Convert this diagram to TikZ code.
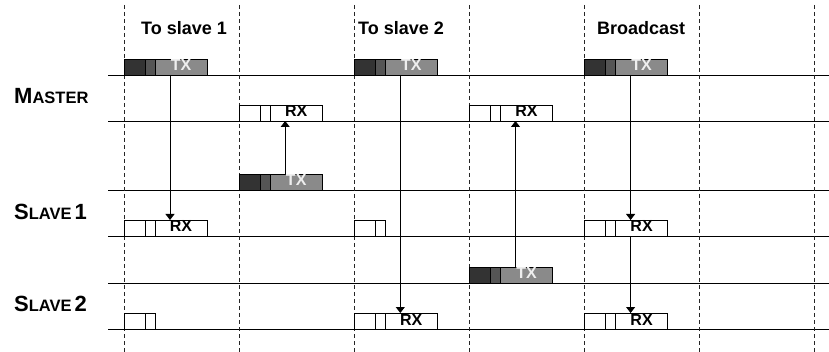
\documentclass[tikz,border=0pt]{standalone}
\usepackage{fontspec}
\setmainfont{Liberation Sans}
\usetikzlibrary{arrows.meta,calc}
\definecolor{dk}{HTML}{333333}
\definecolor{md}{HTML}{555555}
\definecolor{gy}{HTML}{8A8A8A}
\definecolor{txt}{HTML}{EEEEEE}
\newcommand\boxfont{\fontsize{16}{16}\selectfont\bfseries}
\newcommand\bigL[1]{{\fontsize{22}{22}\selectfont #1}}
\newcommand\smallL[1]{{\fontsize{16.5}{16.5}\selectfont #1}}
\tikzset{
  seg/.style={draw, anchor=north west, minimum height=16, inner sep=0, outer sep=0, line width=0.8, text height=11.5, text depth=3.5},
  hline/.style={line width=0.9},
  vdash/.style={line width=0.9, dash pattern=on 4 off 3, black!85},
  arr/.style={line width=0.9, -{Triangle[width=9,length=6]}},
  head/.style={anchor=base west, inner sep=0, font=\fontsize{18}{18}\selectfont\bfseries},
  lane/.style={anchor=base west, inner sep=0, font=\bfseries}
}
\newcommand\txbox[3]{%
  \node[seg,fill=dk,minimum width=21] (#1a) at (#2,#3) {};
  \node[seg,fill=md,minimum width=10] (#1b) at (#1a.north east) {};
  \node[seg,fill=gy,minimum width=52,font=\boxfont,text=txt] (#1) at (#1b.north east) {TX};
}
\newcommand\rxbox[3]{%
  \node[seg,fill=white,minimum width=21] (#1a) at (#2,#3) {};
  \node[seg,fill=white,minimum width=10] (#1b) at (#1a.north east) {};
  \node[seg,fill=white,minimum width=52,font=\boxfont] (#1) at (#1b.north east) {RX};
}
\newcommand\rxstub[3]{%
  \node[seg,fill=white,minimum width=21] (#1a) at (#2,#3) {};
  \node[seg,fill=white,minimum width=10] (#1) at (#1a.north east) {};
}
\begin{document}
\begin{tikzpicture}[x=1pt,y=-1pt]
\useasboundingbox (0,0) rectangle (829,352);
% lane lines
\foreach \yy in {75,121,190,236,283,329}
  \draw[hline] (108,\yy) -- (829,\yy);
% dashed time slots
\foreach \xx in {124,239.2,354.3,469.5,584.6,699.8,814.9}
  \draw[vdash] (\xx,5) -- (\xx,352);
% headers
\node[head] (h1) at (141,35) {To slave 1};
\node[head] (h2) at (358,35) {To slave 2};
\node[head] (h3) at (597,35) {Broadcast};
% lane labels
\node[lane] (lm) at (14,104) {\bigL{M}\smallL{ASTER}};
\node[lane] (ls1) at (14,220) {\bigL{S}\smallL{LAVE}\kern3pt\bigL{1}};
\node[lane] (ls2) at (14,312) {\bigL{S}\smallL{LAVE}\kern3pt\bigL{2}};
% slot 1
\txbox{mt1}{124}{59}
\rxbox{sar1}{124}{220}
\rxstub{sbs1}{124}{313}
% slot 2
\rxbox{mr2}{239.2}{105}
\txbox{sat2}{239.2}{174}
% slot 3
\txbox{mt3}{354.3}{59}
\rxstub{sas3}{354.3}{220}
\rxbox{sbr3}{354.3}{313}
% slot 4
\rxbox{mr4}{469.5}{105}
\txbox{sbt4}{469.5}{267}
% slot 5
\txbox{mt5}{584.6}{59}
\rxbox{sar5}{584.6}{220}
\rxbox{sbr5}{584.6}{313}
% arrows
\draw[arr] ([xshift=15]mt1.south west) -- ([xshift=15]sar1.north west);
\draw[arr] ([xshift=15]sat2.north west) -- ([xshift=15]mr2.south west);
\draw[arr] ([xshift=15]mt3.south west) -- ([xshift=15]sbr3.north west);
\draw[arr] ([xshift=15]sbt4.north west) -- ([xshift=15]mr4.south west);
\draw[arr] ([xshift=15]mt5.south west) -- ([xshift=15]sar5.north west);
\draw[arr] ([xshift=15]sar5.south west) -- ([xshift=15]sbr5.north west);
\end{tikzpicture}
\end{document}
